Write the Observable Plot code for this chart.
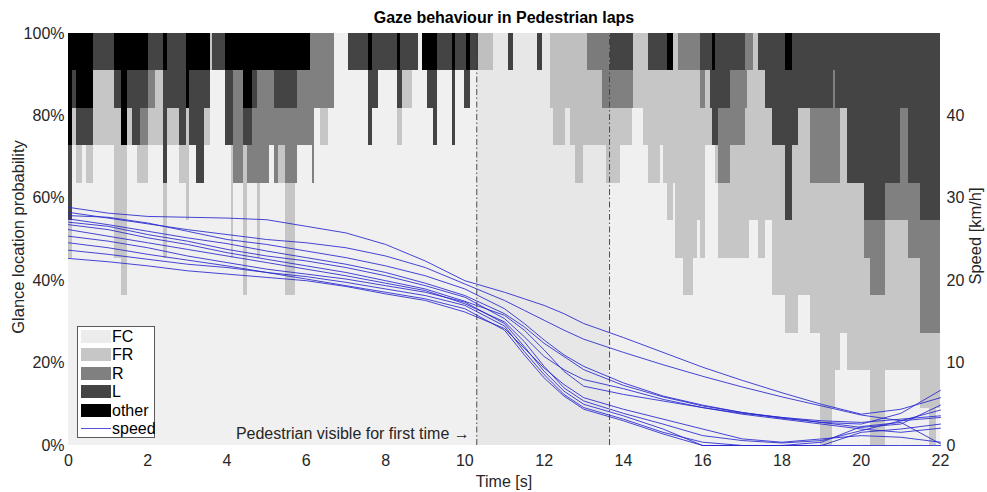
<!DOCTYPE html>
<html><head><meta charset="utf-8">
<script src="https://cdn.jsdelivr.net/npm/d3@7"></script>
<script src="https://cdn.jsdelivr.net/npm/@observablehq/plot@0.6"></script>
<style>
body{margin:0;background:#fff;}
#wrap{position:relative;width:987px;height:492px;overflow:hidden;font-family:'Liberation Sans Narrow','Liberation Sans',Arial,sans-serif;color:#262626;}
#wrap svg{position:absolute;left:0;top:0;}
.lbl{position:absolute;white-space:nowrap;font-size:16px;line-height:16px;}
.vert{font-family:'Liberation Sans',Arial,sans-serif;font-size:16.5px;transform:translate(-50%,-50%) rotate(-90deg);}
#legend{position:absolute;left:77px;top:326px;width:76px;height:110px;border:1px solid #5a5a5a;background:#fff;}
.sw{position:absolute;left:3px;width:30px;height:13px;}
.lt{position:absolute;left:34px;font-size:16px;line-height:16px;white-space:nowrap;color:#000;}
</style></head><body><div id="wrap"></div><script>
// ---------- data ----------
const categories = ["FC", "FR", "R", "L", "other"];
const catColors = ["#f0f0f0", "#c6c6c6", "#808080", "#444444", "#000000"];
const nLaps = 11;
const tEnd = 22;
const timeTicks = [0, 2, 4, 6, 8, 10, 12, 14, 16, 18, 20, 22];
const probTicks = [0, 0.2, 0.4, 0.6, 0.8, 1];
const speedTicks = [0, 10, 20, 30, 40];
const speedMax = 50;
const eventTimes = [10.3, 13.65];
const annotation = "Pedestrian visible for first time \u2192";
const titleText = "Gaze behaviour in Pedestrian laps";

// glance segments: start time of each step, and number of laps (of 11) per location
const segStart = [0,0.10,0.20,0.35,0.45,0.62,1.17,1.34,1.50,1.62,1.75,1.82,2.03,2.20,2.40,2.50,2.80,2.97,3.05,3.22,3.42,3.58,3.64,3.96,4.10,4.17,4.42,4.52,4.64,4.76,4.84,5.06,5.19,5.30,5.48,5.72,5.78,6.10,6.16,6.20,6.36,6.57,6.70,7.07,7.58,7.66,7.83,8.30,8.38,8.42,8.67,8.84,8.93,9.05,9.22,9.30,9.68,9.77,10.00,10.05,10.15,10.35,10.73,11.10,11.23,11.82,11.95,12.16,12.23,12.53,12.67,12.80,13.00,13.09,13.46,13.57,13.67,13.93,14.22,14.26,14.50,14.64,14.94,15.00,15.10,15.27,15.32,15.40,15.52,15.78,15.86,15.95,16.07,16.20,16.24,16.32,16.41,16.70,17.08,17.12,17.17,17.29,17.42,17.58,17.75,18.09,18.26,18.43,18.72,18.97,19.27,19.31,19.35,19.48,19.65,20.07,20.23,20.62,20.99,21.20,21.50,21.72,21.89];
const cntOther = [3,1,2,2,2,0,1,3,1,1,1,1,0,0,1,0,0,2,1,1,1,0,0,1,1,1,2,2,1,1,1,1,1,1,1,1,1,0,0,0,0,0,0,0,1,0,0,1,0,0,0,0,1,1,1,0,1,0,0,1,0,0,0,0,0,0,0,0,0,0,0,0,0,0,0,0,0,0,0,0,0,0,0,0,1,0,0,0,0,0,0,0,0,0,1,0,0,0,0,0,0,0,0,0,0,1,0,0,0,0,0,0,0,0,0,0,0,0,0,0,0,0,0];
const cntL     = [2,1,1,1,1,1,1,0,1,2,2,1,1,1,3,2,3,0,2,3,1,0,1,2,2,0,1,1,1,0,0,0,1,1,1,1,0,0,0,0,0,0,0,1,2,2,1,1,2,1,1,0,0,1,2,1,2,1,2,1,1,0,0,1,0,1,0,0,0,0,0,0,0,0,0,0,1,1,1,0,0,1,1,1,0,0,0,0,0,0,0,1,1,2,2,3,2,1,0,0,0,0,1,2,3,4,3,2,2,2,2,1,2,2,4,5,5,4,2,4,5,5,5];
const cntR     = [0,0,0,0,0,0,0,0,0,0,0,1,1,0,0,0,0,0,0,0,0,0,0,0,0,3,0,1,2,3,3,2,2,1,2,2,2,3,4,2,2,2,0,0,0,0,0,0,0,0,0,0,0,0,0,0,0,0,0,0,0,0,0,0,0,0,0,0,0,0,0,0,0,1,2,2,1,1,1,0,0,0,0,0,0,0,0,1,1,1,1,1,0,0,0,0,2,2,2,1,1,0,0,0,0,0,0,0,2,2,2,3,2,0,0,1,2,1,3,2,3,3,3];
const cntFR    = [1,1,1,0,1,2,4,4,1,0,1,1,1,2,2,1,1,3,0,0,1,1,0,0,3,0,4,0,0,2,0,0,0,1,3,0,0,0,0,0,1,0,0,0,0,0,0,1,1,1,0,0,0,0,0,0,0,0,0,0,0,1,0,0,0,0,0,2,3,2,3,4,3,2,1,2,2,1,0,2,3,3,2,3,4,4,6,5,6,5,4,4,2,1,0,1,2,3,4,5,4,5,5,3,4,3,5,5,4,7,6,6,5,6,5,3,4,4,4,3,2,3,2];
const cntFC    = [5,8,7,8,7,8,5,4,8,8,7,7,8,8,5,8,7,6,8,7,8,10,10,8,5,7,4,7,7,5,7,8,7,7,4,7,8,8,7,9,8,9,11,10,8,9,10,8,8,9,10,11,10,9,8,10,8,10,9,9,10,10,11,10,11,10,11,9,8,9,8,7,8,8,8,7,7,8,9,9,8,7,8,7,6,7,5,5,4,5,6,5,8,8,8,7,5,5,5,5,6,6,5,6,4,3,3,4,3,0,1,1,2,3,2,2,0,2,2,2,1,0,1];

// speed of each lap [km/h] sampled at speedT [s]
const speedT = [0,1,2,3,4,5,6,7,8,9,10,11,11.5,12,12.5,13,14,15,16,17,18,19,20,21,22];
const lap1  = [28.9,28.2,27.8,27.7,27.6,27.4,26.6,25.8,24.4,22.4,20.0,18.6,17.8,17.0,16.0,14.8,13.1,11.3,9.5,7.9,6.4,5.0,3.8,4.4,5.8];
const lap2  = [28.3,27.6,26.9,26.2,25.6,25.0,24.6,24.0,23.0,21.6,19.6,17.6,16.4,15.2,14.0,12.9,11.3,9.8,8.4,7.1,5.9,4.8,3.7,3.0,3.4];
const lap3  = [27.9,27.7,27.0,26.0,25.0,24.4,23.6,22.8,21.8,20.6,19.0,16.6,14.8,12.8,11.0,9.6,7.6,6.0,4.9,4.0,3.3,2.8,2.6,3.9,6.7];
const lap4  = [27.5,26.8,26.0,25.2,24.5,23.6,22.8,22.0,21.0,19.7,18.2,16.0,14.4,12.4,10.8,9.2,7.3,5.9,4.8,4.0,3.4,2.8,2.2,2.6,4.9];
const lap5  = [27.1,26.6,25.6,24.8,23.8,23.0,22.4,21.6,20.6,19.4,18.0,15.4,13.2,10.8,9.2,8.0,6.9,5.6,4.6,3.8,3.2,2.6,2.0,1.6,2.1];
const lap6  = [26.8,26.2,25.2,24.4,23.4,22.6,21.8,21.0,20.0,19.0,17.5,15.8,14.0,11.6,9.0,7.2,6.2,5.4,4.6,3.9,3.4,3.0,2.8,3.2,3.6];
const lap7  = [26.2,25.4,24.6,23.8,23.0,22.2,21.4,20.6,19.7,18.8,17.2,15.0,12.6,9.6,7.0,5.4,3.9,2.6,1.2,0.6,0.3,0.6,1.8,3.0,4.3];
const lap8  = [25.4,24.8,24.0,23.0,22.2,21.4,20.8,20.2,19.4,18.6,17.4,14.8,12.0,9.0,6.6,5.0,3.6,2.0,0,0,0,0,1.6,2.0,2.6];
const lap9  = [23.7,23.2,22.6,22.0,21.6,21.0,20.5,19.8,19.0,18.2,17.0,14.5,11.4,8.6,6.2,4.6,3.2,1.6,0.4,0,0,0.4,2.3,2.8,0.2];
const lap10 = [24.6,24.0,23.2,22.5,21.8,21.0,20.2,19.4,18.6,17.8,16.6,14.0,11.0,8.2,6.0,4.4,3.0,1.4,0,0,0,0,0,0,0];
const lap11 = [22.7,22.3,21.8,21.2,20.8,20.4,20.0,19.3,18.4,17.6,16.2,14.2,11.8,9.4,7.4,5.8,4.4,3.2,2.0,0.8,0.4,0.8,1.2,1.0,0.4];
const speedLaps = [lap1, lap2, lap3, lap4, lap5, lap6, lap7, lap8, lap9, lap10, lap11];

// ---------- build tables ----------
const counts = [cntFC, cntFR, cntR, cntL, cntOther];
const rects = [];
segStart.forEach((t, i) => {
  const t2 = i + 1 < segStart.length ? segStart[i + 1] : tEnd;
  let acc = 0;
  categories.forEach((c, k) => {
    const n = counts[k][i];
    if (n > 0) rects.push({x1: t, x2: t2, y1: acc / nLaps, y2: (acc + n) / nLaps, cat: c});
    acc += n;
  });
});
const speedRows = [];
speedLaps.forEach((lap, j) => lap.forEach((v, i) => speedRows.push({t: speedT[i], v, lap: j})));

const W = 987, H = 492;
const M = {marginLeft: 68, marginRight: 47, marginTop: 33, marginBottom: 47};
const FONT = "'Liberation Sans Narrow','Liberation Sans',Arial,sans-serif";
const speedColor = "#2626cf";

const p1 = Plot.plot({
  width: W, height: H, ...M,
  x: {domain: [0, tEnd]},
  y: {domain: [0, 1]},
  color: {domain: categories, range: catColors},
  style: {fontFamily: FONT, fontSize: "16px", color: "#262626", background: "#fff", overflow: "visible"},
  marks: [
    Plot.rect(rects, {x1: "x1", x2: "x2", y1: "y1", y2: "y2", fill: "cat", shapeRendering: "crispEdges"}),
    Plot.rect([eventTimes], {x1: d => d[0], x2: d => d[1], y1: 0, y2: 1, fill: "#000", fillOpacity: 0.035}),
    Plot.ruleX(eventTimes, {y1: 0, y2: 1, stroke: "#3a3a3a", strokeWidth: 0.9, strokeDasharray: "6,2.5,1.5,2.5"}),
    Plot.text([annotation], {x: eventTimes[0], y: 0, text: d => d, dx: -7, dy: -12, textAnchor: "end", fontSize: 16, fill: "#262626"}),
    Plot.axisX({ticks: timeTicks, tickSize: 0, tickPadding: 9, label: null}),
    Plot.axisY({ticks: probTicks, tickFormat: d3.format(".0%"), tickSize: 0, tickPadding: 4, label: null})
  ]
});

const p2 = Plot.plot({
  width: W, height: H, ...M,
  x: {domain: [0, tEnd], axis: null},
  y: {domain: [0, speedMax]},
  style: {fontFamily: FONT, fontSize: "16px", color: "#262626", background: "transparent", overflow: "visible"},
  marks: [
    Plot.line(speedRows, {x: "t", y: "v", z: "lap", stroke: speedColor, strokeWidth: 1, strokeOpacity: 0.85}),
    Plot.axisY({anchor: "right", ticks: speedTicks, tickSize: 0, tickPadding: 6, label: null})
  ]
});

const wrap = document.getElementById("wrap");
wrap.appendChild(p1);
wrap.appendChild(p2);

function addLabel(text, css, cls) {
  const d = document.createElement("div");
  d.className = "lbl" + (cls ? " " + cls : "");
  d.textContent = text;
  Object.assign(d.style, css);
  wrap.appendChild(d);
  return d;
}
addLabel(titleText, {left: "254px", width: "500px", textAlign: "center", top: "10px", fontWeight: "bold", color: "#000"});
addLabel("Time [s]", {left: "354px", width: "300px", textAlign: "center", top: "474px"});
addLabel("Glance location probability", {left: "18px", top: "237px"}, "vert");
addLabel("Speed [km/h]", {left: "975px", top: "236px"}, "vert");

// legend
const lg = document.createElement("div");
lg.id = "legend";
const rowY = [10, 28, 47, 65, 84, 102];
categories.forEach((c, k) => {
  const s = document.createElement("div");
  s.className = "sw";
  s.style.top = (rowY[k] - 7) + "px";
  s.style.background = catColors[k];
  if (k === 0) s.style.background = "#ececec";
  lg.appendChild(s);
  const t = document.createElement("div");
  t.className = "lt";
  t.style.top = (rowY[k] - 8) + "px";
  t.textContent = c;
  lg.appendChild(t);
});
const ln = document.createElement("div");
ln.className = "sw";
Object.assign(ln.style, {top: (rowY[5] - 1) + "px", height: "1px", background: speedColor, opacity: 0.8});
lg.appendChild(ln);
const lt = document.createElement("div");
lt.className = "lt";
lt.style.top = (rowY[5] - 8) + "px";
lt.textContent = "speed";
lg.appendChild(lt);
wrap.appendChild(lg);
</script></body></html>
